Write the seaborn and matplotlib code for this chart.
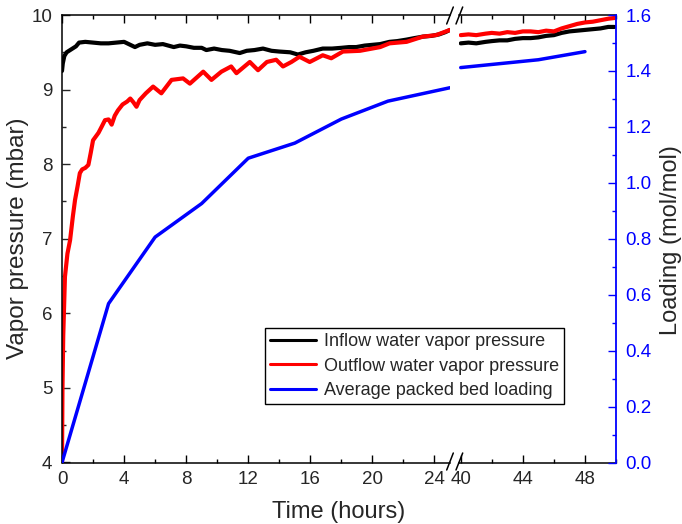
import matplotlib
matplotlib.use("Agg")
import matplotlib.pyplot as plt
import seaborn as sns
from matplotlib.lines import Line2D
from matplotlib.ticker import MultipleLocator, FormatStrFormatter

sns.set_style("ticks")
plt.rcParams['font.family'] = ['Liberation Sans', 'DejaVu Sans']

# ---------------- data ----------------
# Inflow water vapor pressure (mbar), first segment 0-25 h
t_in_a = [0, 0.05, 0.15, 0.3, 0.6, 0.9, 1.1, 1.5, 2, 2.5, 3, 3.5, 4, 4.4, 4.7, 5.0, 5.5, 6, 6.5,
          7.2, 7.6, 8, 8.5, 9, 9.3, 9.8, 10.3, 10.8, 11.45, 11.9, 12.4, 12.95, 13.5, 14, 14.7, 15.2,
          15.7, 16.2, 16.8, 17.4, 18, 18.5, 18.96, 19.5, 20, 20.5, 21.1, 21.6, 22.2, 22.7, 23.25,
          23.8, 24.3, 24.7, 25.0]
p_in_a = [9.25, 9.35, 9.45, 9.5, 9.54, 9.58, 9.63, 9.64, 9.63, 9.62, 9.62, 9.63, 9.64, 9.6, 9.57, 9.6, 9.62, 9.6, 9.61,
          9.57, 9.59, 9.58, 9.56, 9.56, 9.53, 9.55, 9.53, 9.52, 9.49, 9.52, 9.53, 9.55, 9.52, 9.51, 9.5, 9.47,
          9.5, 9.52, 9.55, 9.55, 9.56, 9.57, 9.57, 9.59, 9.6, 9.61, 9.64, 9.65, 9.67, 9.69, 9.71,
          9.72, 9.74, 9.77, 9.8]
# second segment 40-50 h
t_in_b = [40, 40.5, 41, 41.6, 42, 42.5, 43, 43.5, 44, 44.5, 45, 45.5, 46, 46.5, 47, 47.5, 48, 48.5, 49, 49.5, 49.9]
p_in_b = [9.62, 9.63, 9.62, 9.64, 9.65, 9.66, 9.66, 9.68, 9.69, 9.69, 9.7, 9.72, 9.73, 9.76, 9.78, 9.79, 9.8, 9.81,
          9.82, 9.84, 9.84]

# Outflow water vapor pressure (mbar)
t_out_a = [0, 0.03, 0.08, 0.19, 0.35, 0.52, 0.7, 0.84, 1.0, 1.15, 1.3, 1.5, 1.7, 1.85, 2.0, 2.35, 2.55, 2.77,
           3.0, 3.2, 3.4, 3.6, 3.9, 4.2, 4.4, 4.6, 4.8, 5.0, 5.4, 5.87, 6.4, 7.06, 7.8, 8.24, 9.1, 9.63,
           10.27, 10.9, 11.24, 12.1, 12.63, 13.2, 13.8, 14.24, 14.78, 15.3, 15.96, 16.8, 17.35, 18.1,
           19.2, 20.5, 21.1, 22.2, 23.25, 24.1, 25.0]
p_out_a = [4.0, 5.0, 5.7, 6.49, 6.8, 6.98, 7.3, 7.52, 7.7, 7.88, 7.93, 7.95, 7.99, 8.15, 8.32, 8.42, 8.5, 8.59,
           8.6, 8.53, 8.65, 8.72, 8.8, 8.84, 8.88, 8.83, 8.77, 8.86, 8.95, 9.04, 8.95, 9.13, 9.15, 9.08, 9.24, 9.13,
           9.24, 9.31, 9.22, 9.37, 9.26, 9.37, 9.4, 9.31, 9.37, 9.44, 9.37, 9.46, 9.42, 9.51,
           9.52, 9.57, 9.62, 9.64, 9.71, 9.73, 9.8]
t_out_b = [40, 40.5, 41, 41.6, 42, 42.5, 43, 43.5, 44, 44.5, 45, 45.5, 46, 46.5, 47, 47.5, 48, 48.5, 49, 49.5, 49.9]
p_out_b = [9.73, 9.74, 9.73, 9.75, 9.76, 9.75, 9.77, 9.76, 9.78, 9.78, 9.77, 9.79, 9.78, 9.82, 9.85, 9.88, 9.9,
           9.91, 9.93, 9.95, 9.96]

# Average packed bed loading (mol/mol)
t_load_a = [0, 3, 6, 9, 12, 15, 18, 21, 25]
load_a = [0.0, 0.568, 0.806, 0.926, 1.088, 1.142, 1.228, 1.292, 1.34]
t_load_b = [40, 45, 48]
load_b = [1.412, 1.44, 1.469]

labels = ["Inflow water vapor pressure", "Outflow water vapor pressure", "Average packed bed loading"]

# ---------------- figure ----------------
W, H = 682, 524
fig = plt.figure(figsize=(W / 100, H / 100), dpi=100)


def rect(x0, x1, y0, y1):
    return [x0 / W, 1 - y1 / H, (x1 - x0) / W, (y1 - y0) / H]


axL = fig.add_axes(rect(62, 450, 15, 462.5))
axR = fig.add_axes(rect(459.5, 616, 15, 462.5))
axL2 = axL.twinx()
axR2 = axR.twinx()

LW = 3.0
sns.lineplot(x=t_in_a, y=p_in_a, ax=axL, color="black", lw=LW, legend=False)
sns.lineplot(x=t_out_a, y=p_out_a, ax=axL, color="#ff0000", lw=LW, legend=False)
sns.lineplot(x=t_in_b, y=p_in_b, ax=axR, color="black", lw=LW, legend=False)
sns.lineplot(x=t_out_b, y=p_out_b, ax=axR, color="#ff0000", lw=LW, legend=False)
sns.lineplot(x=t_load_a, y=load_a, ax=axL2, color="#0000ff", lw=2.5, legend=False)
sns.lineplot(x=t_load_b, y=load_b, ax=axR2, color="#0000ff", lw=2.5, legend=False)

FS = 13.5
for ax in (axL, axR, axL2, axR2):
    ax.set_xlabel("")
    ax.set_ylabel("")

for ax in (axL, axR):
    ax.set_ylim(4, 10)
    ax.xaxis.set_major_locator(MultipleLocator(4))
    ax.xaxis.set_minor_locator(MultipleLocator(2))
    ax.tick_params(axis="x", which="both", direction="in", top=True, bottom=True,
                   labelsize=FS, width=1.0, pad=6, color="black")
    ax.tick_params(axis="x", which="major", length=6)
    ax.tick_params(axis="x", which="minor", length=3)
    for s in ax.spines.values():
        s.set_linewidth(1.1)
        s.set_color("black")

axL.set_xlim(0, 25)
axR.set_xlim(39.92, 50)

axL.yaxis.set_major_locator(MultipleLocator(1))
axL.yaxis.set_minor_locator(MultipleLocator(0.5))
axL.tick_params(axis="y", which="both", direction="in", left=True, right=False,
                labelsize=FS, width=1.0, pad=7)
axL.tick_params(axis="y", which="major", length=6)
axL.tick_params(axis="y", which="minor", length=3)
axL.spines["right"].set_visible(False)

axR.tick_params(axis="y", which="both", left=False, right=False, labelleft=False)
axR.spines["left"].set_visible(False)
axR.spines["right"].set_visible(False)

for ax in (axL2, axR2):
    ax.set_ylim(0, 1.6)
    for s in ax.spines.values():
        s.set_visible(False)

axL2.tick_params(axis="y", which="both", right=False, labelright=False)

axR2.spines["right"].set_visible(True)
axR2.spines["right"].set_color("#0000ff")
axR2.spines["right"].set_linewidth(1.3)
axR2.yaxis.set_major_locator(MultipleLocator(0.2))
axR2.yaxis.set_minor_locator(MultipleLocator(0.1))
axR2.yaxis.set_major_formatter(FormatStrFormatter("%.1f"))
axR2.tick_params(axis="y", which="both", direction="in", right=True, color="#0000ff",
                 labelcolor="#0000ff", labelsize=FS, width=1.0, pad=7)
axR2.tick_params(axis="y", which="major", length=6)
axR2.tick_params(axis="y", which="minor", length=3)

# axis break marks
for (xa, xb) in ((446.7, 453.3), (456.0, 462.7)):
    for yc in (15.5, 461.5):
        fig.add_artist(Line2D([xa / W, xb / W], [1 - (yc + 8.5) / H, 1 - (yc - 8.5) / H],
                              transform=fig.transFigure, color="black", lw=1.1))

# axis labels
fig.text(339 / W, 1 - 512 / H, "Time (hours)", ha="center", va="center", fontsize=17)
fig.text(18 / W, 1 - 238 / H, "Vapor pressure (mbar)", ha="center", va="center",
         rotation=90, fontsize=17.5)
fig.text(671 / W, 1 - 240 / H, "Loading (mol/mol)", ha="center", va="center",
         rotation=90, fontsize=17)

# legend
handles = [axL.get_lines()[0], axL.get_lines()[1], axL2.get_lines()[0]]
leg = fig.legend(handles, labels, loc="upper left", bbox_to_anchor=(265 / W, 1 - 328 / H),
                 frameon=True, fancybox=False, edgecolor="black", framealpha=1,
                 fontsize=13, handlelength=2.5, handletextpad=0.45, borderpad=0.3,
                 labelspacing=0.4, borderaxespad=0)
leg.get_frame().set_linewidth(1.0)
for l in leg.get_lines():
    l.set_linewidth(2.2)

fig.savefig("out.png", dpi=100)
